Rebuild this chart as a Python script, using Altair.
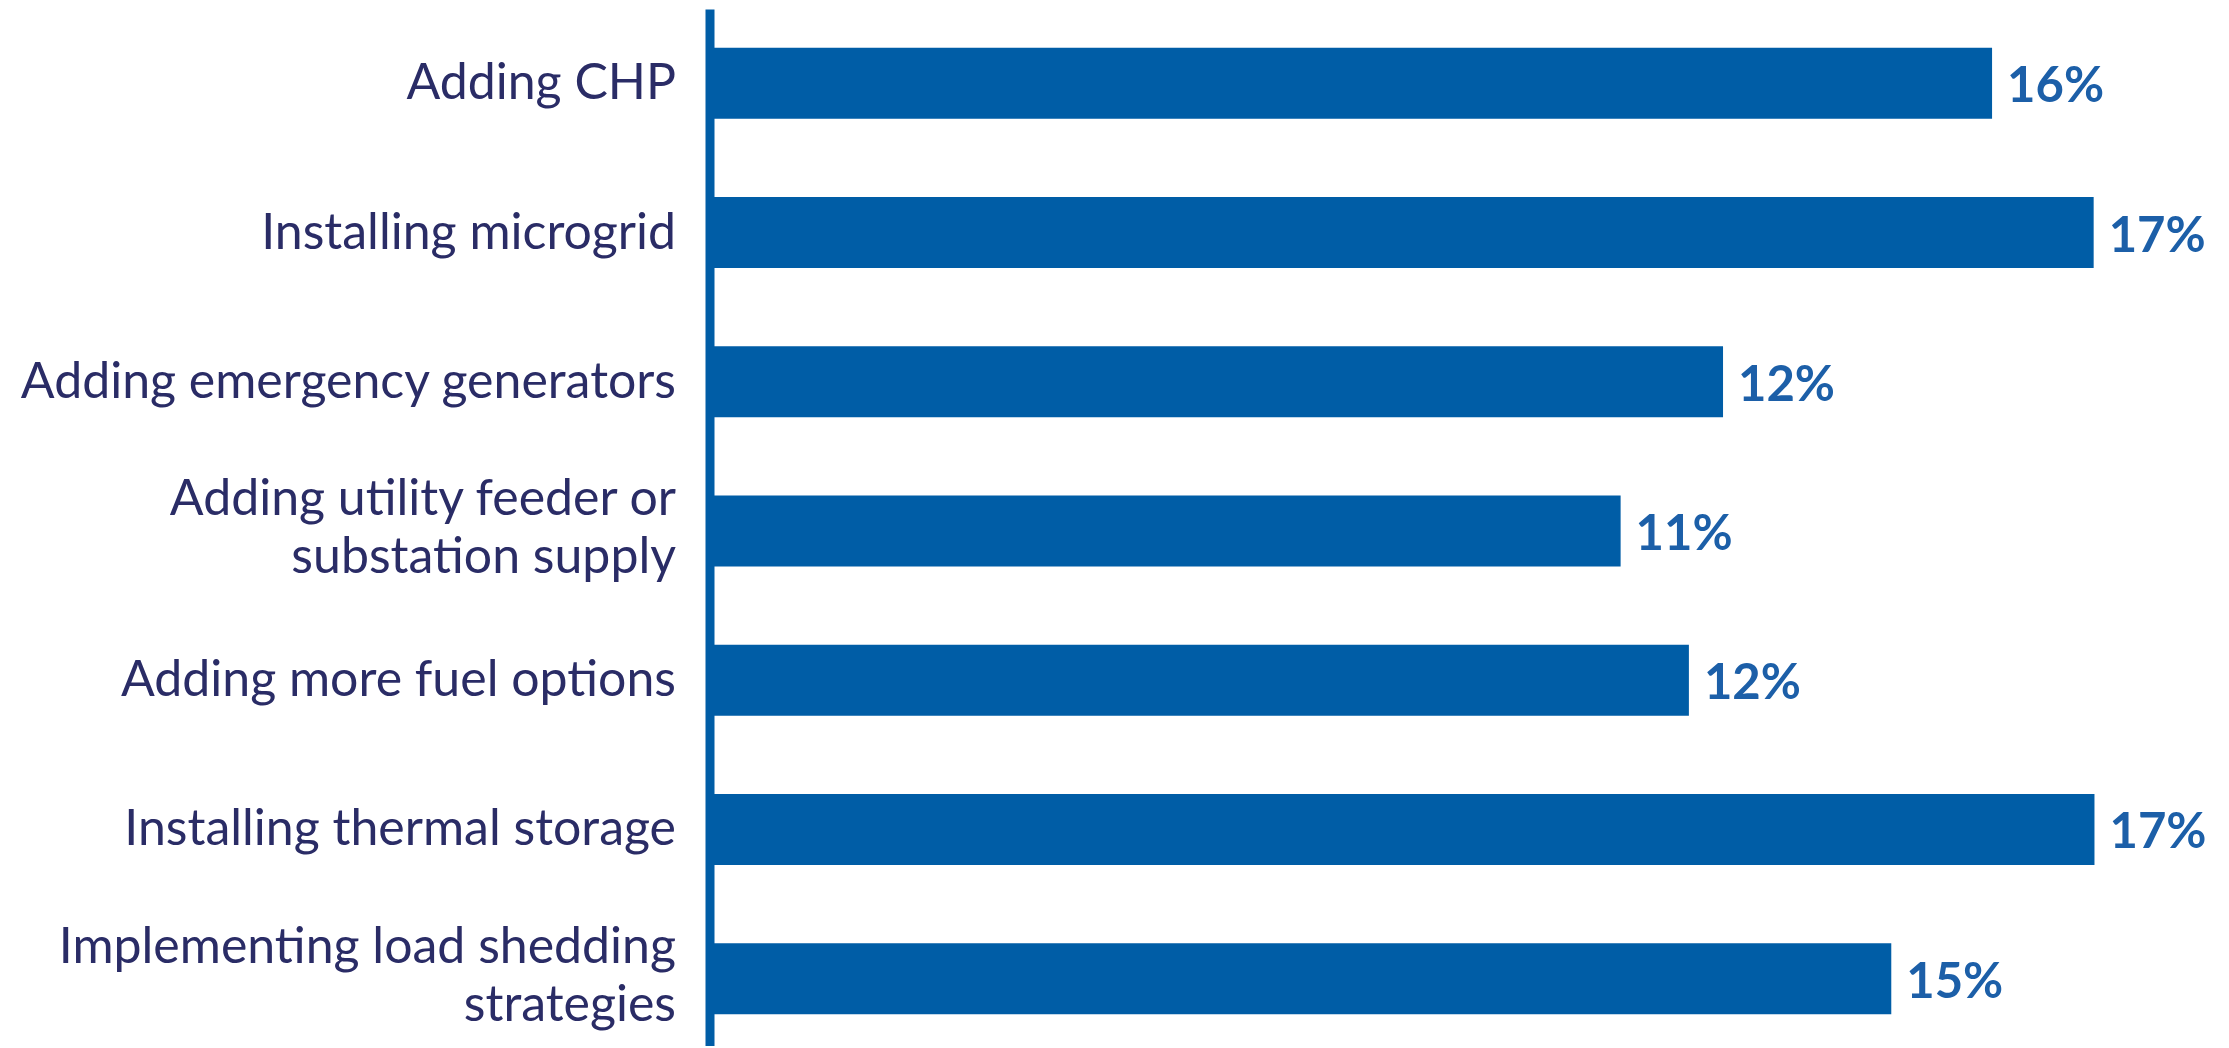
import altair as alt
import pandas as pd

categories = [
    "Adding CHP",
    "Installing microgrid",
    "Adding emergency generators",
    "Adding utility feeder or\nsubstation supply",
    "Adding more fuel options",
    "Installing thermal storage",
    "Implementing load shedding\nstrategies",
]
values = [15.78, 17.03, 12.47, 11.21, 12.05, 17.04, 14.54]
value_labels = ["16%", "17%", "12%", "11%", "12%", "17%", "15%"]

df = pd.DataFrame({"cat": categories, "val": values, "lab": value_labels})

BAR = "#005da6"
TEXT_NAVY = "#2a2c66"
LABEL_BLUE = "#1c5fa8"

y_enc = alt.Y(
    "cat:N",
    sort=None,
    scale=alt.Scale(range=[0, 1044], paddingInner=0.524, paddingOuter=0.26),
    axis=alt.Axis(
        title=None,
        ticks=False,
        tickSize=0,
        grid=False,
        domain=True,
        domainColor=BAR,
        domainWidth=9,
        labelFont="Lato",
        labelFontSize=50,
        labelColor=TEXT_NAVY,
        labelPadding=34,
        labelLimit=0,
        labelLineHeight=58,
        labelAlign="right",
        labelBaseline="middle",
        labelOffset={
            "condition": {"test": "indexof(datum.value, '\\n') >= 0", "value": -31},
            "value": 1,
        },
        labelExpr="split(datum.label, '\\n')",
    ),
)
x_enc = alt.X("val:Q", scale=alt.Scale(domain=[0, 18], nice=False, zero=True), axis=None)

bars = alt.Chart(df).mark_bar(color=BAR, cornerRadius=0).encode(x=x_enc, y=y_enc)
text = alt.Chart(df).mark_text(
    align="left", baseline="middle", dx=15, dy=4, font="Lato", fontSize=49,
    fontWeight="bold", color=LABEL_BLUE
).encode(x=x_enc, y=y_enc, text="lab:N")

chart = (
    alt.layer(bars, text)
    .properties(
        width=1463,
        height=1037,
        autosize=alt.AutoSizeParams(type="none"),
        padding={"left": 701.5, "top": 1, "right": 40, "bottom": 0},
        background="white",
    )
    .configure_view(stroke=None)
)

chart.save("out.html", embed_options={"renderer": "svg", "actions": False})
